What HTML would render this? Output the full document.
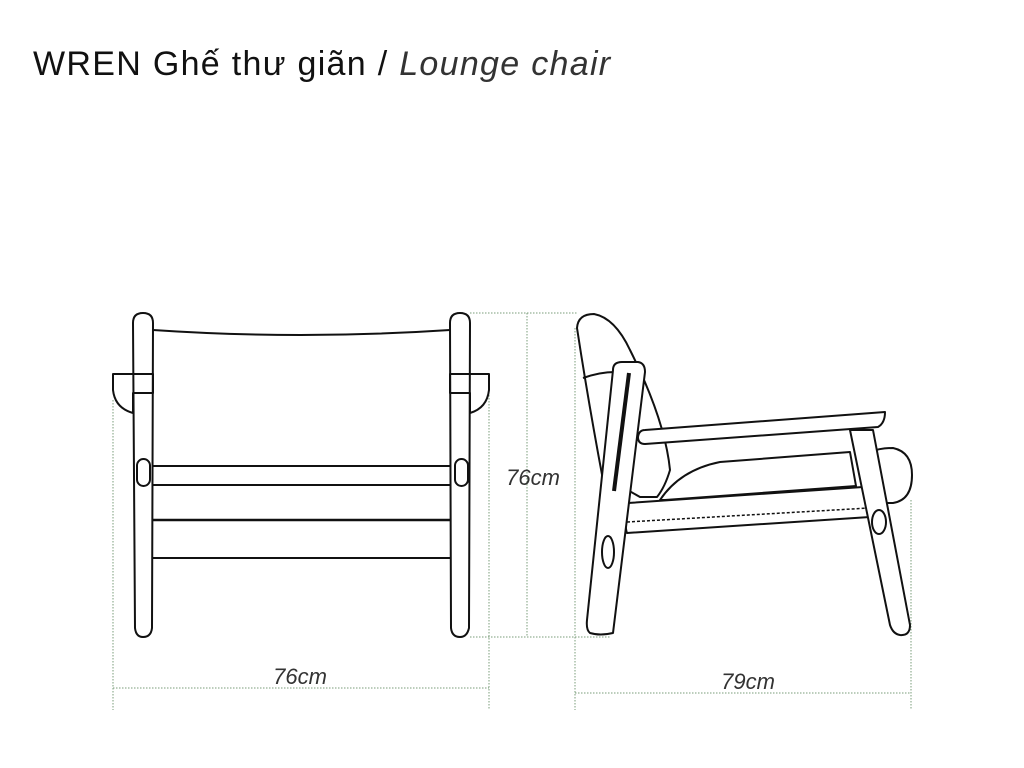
<!DOCTYPE html>
<html><head><meta charset="utf-8"><style>
html,body{margin:0;padding:0;background:#fff;width:1024px;height:768px;overflow:hidden}
.t{position:absolute;left:33px;top:45px;font-family:"Liberation Sans","DejaVu Sans",sans-serif;font-size:34px;color:#111;white-space:nowrap;letter-spacing:1.3px}
.t i{color:#333}
svg{position:absolute;left:0;top:0}
</style></head><body>
<div class="t">WREN Ghế thư giãn / <i>Lounge chair</i></div>
<svg width="1024" height="768" viewBox="0 0 1024 768">
<g stroke="#7a9c7a" stroke-width="1" stroke-dasharray="1.5 1.5" fill="none">
<line x1="113" y1="400" x2="113" y2="710"/>
<line x1="489" y1="395" x2="489" y2="710"/>
<line x1="113" y1="688" x2="489" y2="688"/>
<line x1="470" y1="313" x2="577" y2="313"/>
<line x1="470" y1="637" x2="610" y2="637"/>
<line x1="527" y1="313" x2="527" y2="637"/>
<line x1="575" y1="328" x2="575" y2="710"/>
<line x1="911" y1="500" x2="911" y2="710"/>
<line x1="575" y1="693" x2="911" y2="693"/>
</g>
<g font-family="Liberation Sans,sans-serif" font-style="italic" font-size="22" fill="#333">
<text x="300" y="684" text-anchor="middle">76cm</text>
<text x="533" y="485" text-anchor="middle">76cm</text>
<text x="748" y="689" text-anchor="middle">79cm</text>
</g>
<g stroke="#111" stroke-width="2" fill="#fff" stroke-linejoin="round">
<!-- front view -->
<path d="M153 330 Q300 340 450 330" fill="none"/>
<path d="M113 374 L153 374 L153 393 L133 393 L133 413 Q115 408 113 390 Z"/>
<path d="M489 374 L450 374 L450 393 L470 393 L470 413 Q487 408 489 390 Z"/>
<path d="M133 323 Q133 313 143 313 Q153 313 153 323 L152 628 Q151 637 143 637 Q136 637 135 628 Z" fill="none"/>
<path d="M450 323 Q450 313 460 313 Q470 313 470 323 L469 628 Q467 637 460 637 Q452 637 451 628 Z" fill="none"/>
<line x1="133" y1="393" x2="153" y2="393"/>
<line x1="450" y1="393" x2="470" y2="393"/>
<line x1="153" y1="466" x2="450" y2="466"/>
<line x1="153" y1="485" x2="450" y2="485"/>
<line x1="153" y1="520" x2="450" y2="520" stroke-width="2.5"/>
<line x1="153" y1="558" x2="450" y2="558"/>
<rect x="137" y="459" width="13" height="27" rx="6.5"/>
<rect x="455" y="459" width="13" height="27" rx="6.5"/>
<!-- side view -->
<path d="M577 328 Q578 314 594 314 Q615 318 630 350 Q665 420 670 470 Q665 487 657 497 L640 497 L610 480 L603 480 Q588 400 577 328 Z"/>
<path d="M583 378 Q600 372 615 372" fill="none"/>
<path d="M660 500 Q680 470 720 462 L850 452 L856 486 L665 500 Z"/>
<path d="M628 503 L863 487 L868 505 L870 517 L627 533 Q624 525 628 503 Z"/>
<line x1="627" y1="522" x2="869" y2="508" stroke-dasharray="3 2" stroke-width="1.5"/>
<path d="M613 370 Q613 362 622 362 L638 362 Q645 363 645 372 L613 633 Q600 636 590 633 Q586 630 587 620 Z"/>
<line x1="629" y1="373" x2="614" y2="491" stroke-width="4"/>
<ellipse cx="608" cy="552" rx="6" ry="16"/>
<path d="M870 452 Q880 448 893 448 Q912 452 912 475 Q912 500 893 503 L878 503 Z"/>
<path d="M850 430 L873 430 L910 625 Q910 636 900 635 Q893 634 890 625 Z"/>
<ellipse cx="879" cy="522" rx="7" ry="12"/>
<path d="M645 430 L885 412 Q885 423 878 427 L645 444 Q638 444 638 437 Q639 430 645 430 Z"/>
</g>
</svg>
</body></html>
